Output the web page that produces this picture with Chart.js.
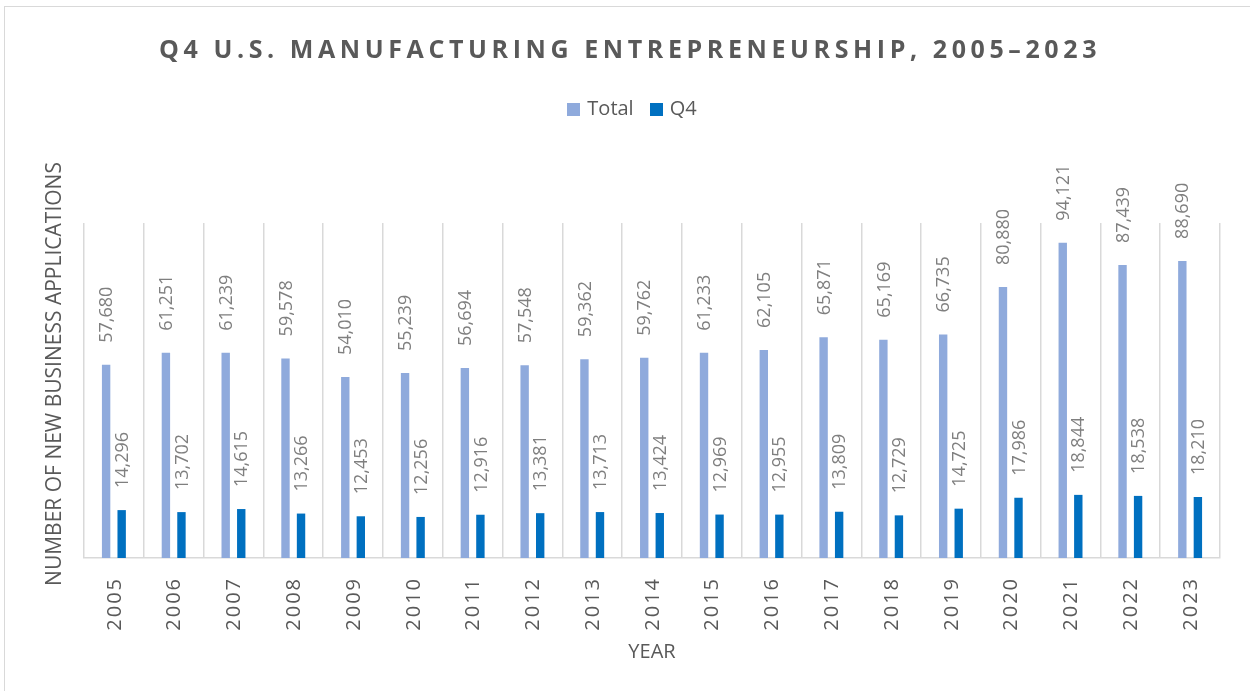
<!DOCTYPE html>
<html>
<head>
<meta charset="utf-8">
<script src="https://cdn.jsdelivr.net/npm/chart.js@4.4.0/dist/chart.umd.min.js"></script>
<style>
body{margin:0;background:#fff;overflow:hidden;font-family:"Open Sans",sans-serif;}
#frame{position:absolute;left:4px;top:6px;width:1400px;height:900px;border:1px solid #d9d9d9;}
#title{position:absolute;left:0;width:1260px;top:31px;text-align:center;font-size:25px;font-weight:700;letter-spacing:4.6px;color:#595959;}
#legend{position:absolute;left:0;width:1264px;top:94px;text-align:center;font-size:20px;color:#595959;}
#legend span.item{display:inline-block;margin:0 8px;}
#legend span.box{display:inline-block;width:13px;height:13px;margin-right:7px;vertical-align:-1px;}
canvas{position:absolute;left:0;top:0;}
</style>
</head>
<body>
<div id="frame"></div>
<canvas id="chart" width="1250" height="691"></canvas>
<div id="title">Q4 U.S. MANUFACTURING ENTREPRENEURSHIP, 2005–2023</div>
<div id="legend"></div>
<script>
let years=["2005","2006","2007","2008","2009","2010","2011","2012","2013","2014","2015","2016","2017","2018","2019","2020","2021","2022","2023"];
let totalVals=[57680,61251,61239,59578,54010,55239,56694,57548,59362,59762,61233,62105,65871,65169,66735,80880,94121,87439,88690];
let q4Vals=[14296,13702,14615,13266,12453,12256,12916,13381,13713,13424,12969,12955,13809,12729,14725,17986,18844,18538,18210];
let seriesNames=["Total","Q4"];
let seriesColors=["#8faadc","#0070c0"];
let yTitle="NUMBER OF NEW BUSINESS APPLICATIONS";

// legend as html
let lg=document.getElementById("legend");
seriesNames.forEach((n,i)=>{
lg.innerHTML+=`<span class="item"><span class="box" style="background:${seriesColors[i]}"></span>${n}</span>`;
});

// value labels above bars, rotated
const barLabels={
id:"barLabels",
afterDatasetsDraw(chart){
let ctx=chart.ctx;
ctx.save();
ctx.font="18px 'Open Sans'";
ctx.fillStyle="#7f7f7f";
ctx.textAlign="left";
ctx.textBaseline="middle";
chart.data.datasets.forEach((ds,i)=>{
chart.getDatasetMeta(i).data.forEach((el,j)=>{
ctx.save();
ctx.translate(el.x+1,el.y-22);
ctx.rotate(-Math.PI/2);
ctx.fillText(ds.data[j].toLocaleString("en-US"),0,0);
ctx.restore();
});
});
ctx.restore();
}
};

// year ticks + y title, rotated
const axisText={
id:"axisText",
afterDraw(chart){
let ctx=chart.ctx;
let xs=chart.scales.x;
ctx.save();
ctx.font="20px 'Open Sans'";
ctx.letterSpacing="2px";
ctx.fillStyle="#595959";
ctx.textAlign="right";
ctx.textBaseline="middle";
years.forEach((y,i)=>{
ctx.save();
ctx.translate(xs.getPixelForValue(i)+1,577);
ctx.rotate(-Math.PI/2);
ctx.fillText(y,0,0);
ctx.restore();
});
ctx.letterSpacing="0px";
ctx.font="21px 'Open Sans'";
ctx.textAlign="center";
ctx.translate(55,374);
ctx.rotate(-Math.PI/2);
ctx.fillText(yTitle,0,0);
ctx.restore();
}
};

new Chart(document.getElementById("chart"),{
type:"bar",
data:{
labels:years,
datasets:[
{label:seriesNames[0],data:totalVals,backgroundColor:seriesColors[0]},
{label:seriesNames[1],data:q4Vals,backgroundColor:seriesColors[1]}
]
},
options:{
responsive:false,
animation:false,
layout:{padding:{top:223,left:0,right:30,bottom:0}},
datasets:{bar:{categoryPercentage:0.52,barPercentage:0.54}},
plugins:{legend:{display:false},tooltip:{enabled:false}},
scales:{
x:{
offset:true,
grid:{display:true,offset:true,color:"#d9d9d9",lineWidth:1.5,drawTicks:false},
border:{display:true,color:"#d9d9d9",width:1.5},
ticks:{display:false},
title:{display:true,text:"YEAR",color:"#595959",font:{family:"Open Sans",size:20},padding:{top:0,bottom:27}},
afterFit(s){s.height=133;}
},
y:{
min:0,max:100000,
grid:{display:false},
border:{display:false},
ticks:{display:false},
afterFit(s){s.width=84;}
}
}
},
plugins:[barLabels,axisText]
});
</script>
</body>
</html>
